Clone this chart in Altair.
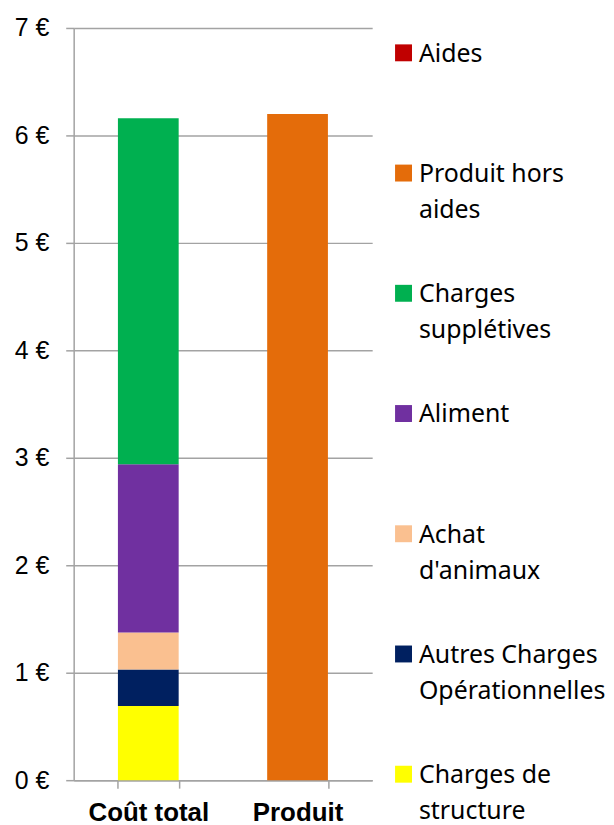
import altair as alt
import pandas as pd

# ---- data ----
categories = ["Coût total", "Produit"]
series = ["Charges de structure", "Autres Charges Opérationnelles", "Achat d'animaux",
          "Aliment", "Charges supplétives", "Produit hors aides", "Aides"]
cout_total = [0.69, 0.34, 0.345, 1.565, 3.22, 0.0, 0.0]
produit = [0.0, 0.0, 0.0, 0.0, 0.0, 6.20, 0.0]
colors = ["#FFFF00", "#002060", "#FAC090", "#7030A0", "#00B050", "#E46C0A", "#C00000"]

legend_series = ["Aides", "Produit hors aides", "Charges supplétives", "Aliment",
                 "Achat d'animaux", "Autres Charges Opérationnelles", "Charges de structure"]
legend_labels = ["Aides", "Produit hors\naides", "Charges\nsupplétives", "Aliment",
                 "Achat\nd'animaux", "Autres Charges\nOpérationnelles", "Charges de\nstructure"]
y_ticks = [0, 1, 2, 3, 4, 5, 6, 7]

# ---- tables ----
rows = []
for cat, vals in zip(categories, [cout_total, produit]):
    for i, (s, v) in enumerate(zip(series, vals)):
        if v > 0:
            rows.append({"cat": cat, "series": s, "value": v, "ord": i})
bars_df = pd.DataFrame(rows)
leg_df = pd.DataFrame({"series": legend_series, "label": legend_labels})

grey = "#a3a3a3"
axis_font = "Arial, Liberation Sans, sans-serif"
color_scale = alt.Scale(domain=series, range=colors)

bars = alt.Chart(bars_df).mark_bar().encode(
    x=alt.X("cat:N", sort=categories,
            scale=alt.Scale(paddingInner=0.593, paddingOuter=0.2965),
            axis=alt.Axis(title=None, labelAngle=0, labelFont=axis_font,
                          labelFontWeight="bold", labelFontSize=26, labelColor="#000000",
                          tickBand="extent", tickSize=8, tickColor=grey, tickWidth=1.5,
                          domainColor=grey, domainWidth=1.5, labelPadding=12, grid=False)),
    y=alt.Y("value:Q", stack="zero",
            scale=alt.Scale(domain=[0, 7], nice=False),
            axis=alt.Axis(title=None, values=y_ticks, labelExpr="datum.value + ' €'",
                          labelFont=axis_font, labelFontSize=25, labelColor="#000000",
                          labelPadding=17, tickSize=8, tickColor=grey, tickWidth=1.5,
                          domainColor=grey, domainWidth=1.5, grid=True, gridColor=grey,
                          gridWidth=1.5)),
    color=alt.Color("series:N", scale=color_scale, legend=None),
    order=alt.Order("ord:Q", sort="ascending"),
)

leg_y = alt.Y("series:N", sort=legend_series,
              scale=alt.Scale(type="point", domain=legend_series, range=[25, 750], padding=0),
              axis=None)

leg_sq = alt.Chart(leg_df).mark_square(size=289, opacity=1).encode(
    x=alt.value(331.5),
    y=leg_y,
    color=alt.Color("series:N", scale=color_scale, legend=None),
)

leg_txt = alt.Chart(leg_df).mark_text(
    align="left", baseline="alphabetic", dy=9, font="Noto Sans", fontSize=25,
    lineBreak="\n", lineHeight=36, color="#000000"
).encode(
    x=alt.value(347),
    y=leg_y,
    text="label:N",
)

chart = alt.layer(bars, leg_sq, leg_txt).resolve_scale(y="independent").properties(
    width=300, height=756,
    padding={"left": 6, "top": 6, "right": 0, "bottom": 0},
).configure_view(stroke=None)

chart.save("out.html", embed_options={"renderer": "svg", "actions": False})
